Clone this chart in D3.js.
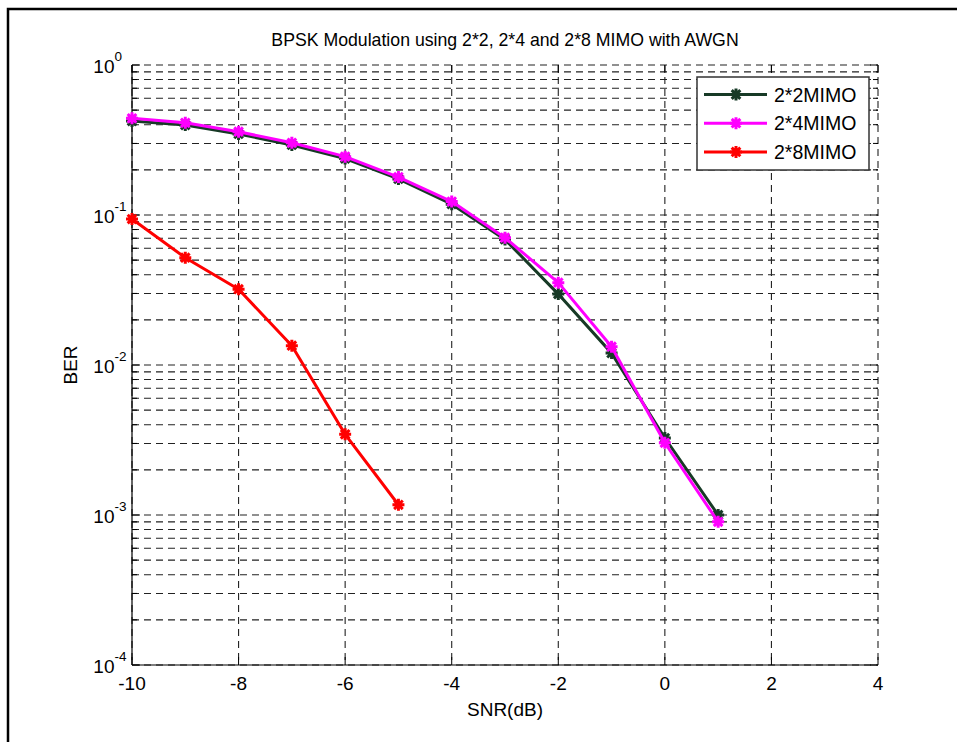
<!DOCTYPE html>
<html>
<head>
<meta charset="utf-8">
<script src="https://cdn.jsdelivr.net/npm/d3@7"></script>
<style>
  body { margin: 0; background: #fff; }
  svg { font-family: "Liberation Sans", Arial, Helvetica, sans-serif; }
</style>
</head>
<body>
<svg id="chart" width="957" height="742"></svg>
<script>
// valeurs
const snr = [-10, -9, -8, -7, -6, -5, -4, -3, -2, -1, 0, 1];
const ber2x2 = [0.423, 0.398, 0.347, 0.293, 0.238, 0.174, 0.118, 0.0687, 0.0297, 0.0120, 0.00326, 0.00100];
const ber2x4 = [0.441, 0.412, 0.359, 0.303, 0.245, 0.179, 0.123, 0.0706, 0.0354, 0.01325, 0.00303, 0.00090];
const snr2x8 = [-10, -9, -8, -7, -6, -5];
const ber2x8 = [0.094, 0.0519, 0.0320, 0.01345, 0.00345, 0.00117];
const xTicks = [-10, -8, -6, -4, -2, 0, 2, 4];
const yExponents = [-4, -3, -2, -1, 0];
const seriesNames = ['2*2MIMO', '2*4MIMO', '2*8MIMO'];
const seriesColors = ['#173a26', '#ff00ff', '#ff0000'];

const svg = d3.select('#chart');
const margin = { top: 65, left: 132 };
const width = 746, height = 600;

const x = d3.scaleLinear().domain([-10, 4]).range([0, width]);
const y = d3.scaleLog().domain([1e-4, 1]).range([height, 0]);

// cadre extérieur (figure rognée)
svg.append('path')
    .attr('d', 'M8,742V9H957')
    .attr('fill', 'none')
    .attr('stroke', '#000')
    .attr('stroke-width', 2.5);

const g = svg.append('g').attr('transform', `translate(${margin.left},${margin.top})`);

// graduations mineures et majeures
const minorVals = [];
yExponents.slice(0, -1).forEach(e => {
    for (let k = 2; k <= 9; k++) minorVals.push(k * Math.pow(10, e));
});
const majorVals = yExponents.map(e => Math.pow(10, e));

const dash = '7,5';
// grille horizontale
g.selectAll('.hgrid')
    .data(majorVals.concat(minorVals))
    .enter().append('line')
    .attr('x1', 0).attr('x2', width)
    .attr('y1', d => y(d)).attr('y2', d => y(d))
    .attr('stroke', '#222').attr('stroke-width', 1.1)
    .attr('stroke-dasharray', dash);
// grille verticale
g.selectAll('.vgrid')
    .data(xTicks)
    .enter().append('line')
    .attr('x1', d => x(d)).attr('x2', d => x(d))
    .attr('y1', 0).attr('y2', height)
    .attr('stroke', '#222').attr('stroke-width', 1.1)
    .attr('stroke-dasharray', dash);

// axes gauche et bas
g.append('line').attr('x1', 0).attr('x2', 0).attr('y1', 0).attr('y2', height)
    .attr('stroke', '#000').attr('stroke-width', 1.2);
g.append('line').attr('x1', 0).attr('x2', width).attr('y1', height).attr('y2', height)
    .attr('stroke', '#000').attr('stroke-width', 1.2);

// tics
const tickG = g.append('g').attr('stroke', '#000').attr('stroke-width', 1);
majorVals.forEach(v => {
    tickG.append('line').attr('x1', 0).attr('x2', 8).attr('y1', y(v)).attr('y2', y(v));
    tickG.append('line').attr('x1', width).attr('x2', width - 8).attr('y1', y(v)).attr('y2', y(v));
});
minorVals.forEach(v => {
    tickG.append('line').attr('x1', 0).attr('x2', 5).attr('y1', y(v)).attr('y2', y(v));
    tickG.append('line').attr('x1', width).attr('x2', width - 5).attr('y1', y(v)).attr('y2', y(v));
});
xTicks.forEach(t => {
    tickG.append('line').attr('x1', x(t)).attr('x2', x(t)).attr('y1', height).attr('y2', height - 8);
    tickG.append('line').attr('x1', x(t)).attr('x2', x(t)).attr('y1', 0).attr('y2', 8);
});

// étiquettes des tics
g.selectAll('.xlab')
    .data(xTicks)
    .enter().append('text')
    .attr('x', d => x(d)).attr('y', height + 25)
    .attr('text-anchor', 'middle')
    .attr('font-size', 19).attr('fill', '#000')
    .text(d => d);

yExponents.forEach(e => {
    const yy = y(Math.pow(10, e));
    g.append('text')
        .attr('x', -17.5).attr('y', yy + 7.5)
        .attr('text-anchor', 'end')
        .attr('font-size', 19).attr('fill', '#000')
        .text('10');
    g.append('text')
        .attr('x', -17.5).attr('y', yy - 4.5)
        .attr('font-size', 13.5).attr('fill', '#000')
        .text(e);
});

// courbes
const line = d3.line().x(d => x(d[0])).y(d => y(d[1]));
const allSeries = [
    d3.zip(snr, ber2x2),
    d3.zip(snr, ber2x4),
    d3.zip(snr2x8, ber2x8)
];

function star(sel, color) {
    const r = 6;
    sel.append('path')
        .attr('d', `M${-r},0H${r}M0,${-r}V${r}M${-r * 0.72},${-r * 0.72}L${r * 0.72},${r * 0.72}M${-r * 0.72},${r * 0.72}L${r * 0.72},${-r * 0.72}`)
        .attr('stroke', color).attr('stroke-width', 3).attr('fill', 'none');
}

allSeries.forEach((pts, i) => {
    g.append('path')
        .datum(pts)
        .attr('d', line)
        .attr('fill', 'none')
        .attr('stroke', seriesColors[i])
        .attr('stroke-width', 3)
        .attr('stroke-linejoin', 'round');
    pts.forEach(p => {
        const m = g.append('g').attr('transform', `translate(${x(p[0])},${y(p[1])})`);
        star(m, seriesColors[i]);
    });
});

// légende
const leg = svg.append('g');
leg.append('rect')
    .attr('x', 697).attr('y', 77).attr('width', 172).attr('height', 93)
    .attr('fill', '#fff').attr('stroke', '#333').attr('stroke-width', 1.5);
seriesNames.forEach((name, i) => {
    const ly = 94.5 + i * 28.7;
    leg.append('line').attr('x1', 704).attr('x2', 767).attr('y1', ly).attr('y2', ly)
        .attr('stroke', seriesColors[i]).attr('stroke-width', 3);
    star(leg.append('g').attr('transform', `translate(736,${ly})`), seriesColors[i]);
    leg.append('text')
        .attr('x', 774).attr('y', ly + 7)
        .attr('font-size', 19.5).attr('fill', '#000')
        .text(name);
});

// titres
svg.append('text')
    .attr('x', margin.left + width / 2).attr('y', 46)
    .attr('text-anchor', 'middle')
    .attr('font-size', 17.7).attr('fill', '#000')
    .text('BPSK Modulation using 2*2, 2*4 and 2*8 MIMO with AWGN');
svg.append('text')
    .attr('x', margin.left + width / 2).attr('y', 716)
    .attr('text-anchor', 'middle')
    .attr('font-size', 19).attr('fill', '#000')
    .text('SNR(dB)');
svg.append('text')
    .attr('transform', `translate(77,${margin.top + height / 2}) rotate(-90)`)
    .attr('text-anchor', 'middle')
    .attr('font-size', 19).attr('fill', '#000')
    .text('BER');
</script>
</body>
</html>
